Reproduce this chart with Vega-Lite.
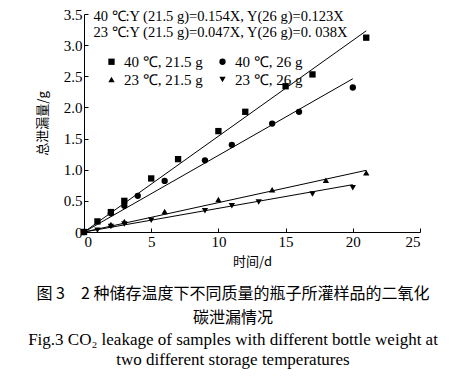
{
  "$schema": "https://vega.github.io/schema/vega-lite/v6.json",
  "width": 336,
  "height": 218,
  "autosize": {"type": "none"},
  "padding": {"left": 84, "top": 14, "right": 46, "bottom": 146},
  "background": "white",
  "config": {
    "view": {"stroke": null},
    "axis": {
      "grid": false,
      "domainColor": "black",
      "tickColor": "black",
      "labelColor": "black",
      "titleColor": "black",
      "labelFont": "Liberation Serif",
      "labelFontSize": 15,
      "titleFont": "Noto Sans CJK SC",
      "titleFontSize": 13,
      "titleFontWeight": "normal",
      "tickSize": -4,
      "labelPadding": 6,
      "labelOverlap": false
    }
  },
  "title": {
    "text": ["图 3　2 种储存温度下不同质量的瓶子所灌样品的二氧化", "碳泄漏情况"],
    "subtitle": ["Fig.3 CO₂ leakage of samples with different bottle weight at", "two different storage temperatures"],
    "orient": "bottom",
    "anchor": "middle",
    "frame": "group",
    "dx": -19,
    "offset": 18,
    "font": "Noto Sans CJK SC",
    "fontSize": 16,
    "fontWeight": "normal",
    "lineHeight": 24,
    "color": "black",
    "subtitleFont": "Liberation Serif",
    "subtitleFontSize": 17,
    "subtitleLineHeight": 20,
    "subtitleColor": "black",
    "subtitlePadding": 6
  },
  "datasets": {
    "points": [
      {"series": "40 ℃, 21.5 g", "day": 0, "leak": 0},
      {"series": "40 ℃, 21.5 g", "day": 1, "leak": 0.17},
      {"series": "40 ℃, 21.5 g", "day": 2, "leak": 0.32},
      {"series": "40 ℃, 21.5 g", "day": 3, "leak": 0.5},
      {"series": "40 ℃, 21.5 g", "day": 5, "leak": 0.86},
      {"series": "40 ℃, 21.5 g", "day": 7, "leak": 1.17},
      {"series": "40 ℃, 21.5 g", "day": 10, "leak": 1.62},
      {"series": "40 ℃, 21.5 g", "day": 12, "leak": 1.93},
      {"series": "40 ℃, 21.5 g", "day": 15, "leak": 2.34},
      {"series": "40 ℃, 21.5 g", "day": 17, "leak": 2.53},
      {"series": "40 ℃, 21.5 g", "day": 21, "leak": 3.12},
      {"series": "40 ℃, 26 g", "day": 0, "leak": 0},
      {"series": "40 ℃, 26 g", "day": 2, "leak": 0.3},
      {"series": "40 ℃, 26 g", "day": 3, "leak": 0.42},
      {"series": "40 ℃, 26 g", "day": 4, "leak": 0.58},
      {"series": "40 ℃, 26 g", "day": 6, "leak": 0.82},
      {"series": "40 ℃, 26 g", "day": 9, "leak": 1.15},
      {"series": "40 ℃, 26 g", "day": 11, "leak": 1.4},
      {"series": "40 ℃, 26 g", "day": 14, "leak": 1.74},
      {"series": "40 ℃, 26 g", "day": 16, "leak": 1.93},
      {"series": "40 ℃, 26 g", "day": 20, "leak": 2.32},
      {"series": "23 ℃, 21.5 g", "day": 0, "leak": 0},
      {"series": "23 ℃, 21.5 g", "day": 2, "leak": 0.12},
      {"series": "23 ℃, 21.5 g", "day": 3, "leak": 0.17},
      {"series": "23 ℃, 21.5 g", "day": 6, "leak": 0.33},
      {"series": "23 ℃, 21.5 g", "day": 10, "leak": 0.52},
      {"series": "23 ℃, 21.5 g", "day": 14, "leak": 0.68},
      {"series": "23 ℃, 21.5 g", "day": 18, "leak": 0.83},
      {"series": "23 ℃, 21.5 g", "day": 21, "leak": 0.95},
      {"series": "23 ℃, 26 g", "day": 0, "leak": 0},
      {"series": "23 ℃, 26 g", "day": 1, "leak": 0.03},
      {"series": "23 ℃, 26 g", "day": 2, "leak": 0.09},
      {"series": "23 ℃, 26 g", "day": 3, "leak": 0.13},
      {"series": "23 ℃, 26 g", "day": 5, "leak": 0.19},
      {"series": "23 ℃, 26 g", "day": 9, "leak": 0.34},
      {"series": "23 ℃, 26 g", "day": 11, "leak": 0.42},
      {"series": "23 ℃, 26 g", "day": 13, "leak": 0.48},
      {"series": "23 ℃, 26 g", "day": 17, "leak": 0.61},
      {"series": "23 ℃, 26 g", "day": 20, "leak": 0.71}
    ],
    "fits": [
      {"series": "40 ℃, 21.5 g", "day": 0, "leak": 0, "day2": 21, "leak2": 3.23},
      {"series": "40 ℃, 26 g", "day": 0, "leak": 0, "day2": 20, "leak2": 2.46},
      {"series": "23 ℃, 21.5 g", "day": 0, "leak": 0, "day2": 21, "leak2": 0.99},
      {"series": "23 ℃, 26 g", "day": 0, "leak": 0, "day2": 20, "leak2": 0.76}
    ],
    "notes": [
      {"label": "40 ℃:Y (21.5 g)=0.154X, Y(26 g)=0.123X", "day": 0.7, "leak": 3.45},
      {"label": "23 ℃:Y (21.5 g)=0.047X, Y(26 g)=0. 038X", "day": 0.7, "leak": 3.2}
    ]
  },
  "encoding": {
    "x": {"field": "day", "type": "quantitative", "scale": {"domain": [0, 25]},
      "axis": {"title": "时间/d", "values": [0, 5, 10, 15, 20, 25], "titlePadding": 6, "labelOverlap": false}},
    "y": {"field": "leak", "type": "quantitative", "scale": {"domain": [0, 3.5]},
      "axis": {"title": "总泄漏量/g", "values": [0, 0.5, 1, 1.5, 2, 2.5, 3, 3.5], "tickCount": 8, "labelOverlap": false,
        "labelExpr": "datum.value == 0 ? '0' : format(datum.value, '.1f')", "titlePadding": 14}}
  },
  "layer": [
    {
      "data": {"name": "fits"},
      "mark": {"type": "rule", "color": "black", "strokeWidth": 1},
      "encoding": {
        "x2": {"field": "day2"},
        "y2": {"field": "leak2"}
      }
    },
    {
      "data": {"name": "points"},
      "mark": {"type": "point", "filled": true, "opacity": 1, "size": 40},
      "encoding": {
        "color": {"value": "black"},
        "shape": {
          "field": "series", "type": "nominal",
          "scale": {"domain": ["40 ℃, 21.5 g", "23 ℃, 21.5 g", "40 ℃, 26 g", "23 ℃, 26 g"],
            "range": ["square", "triangle-up", "circle", "triangle-down"]},
          "legend": {
            "title": null, "orient": "none", "legendX": 20, "legendY": 40,
            "columns": 2, "columnPadding": 12, "rowPadding": 2,
            "labelFont": "Liberation Serif", "labelFontSize": 15, "labelColor": "black",
            "symbolFillColor": "black", "symbolStrokeColor": "black", "symbolSize": 40, "labelOffset": 5
          }
        }
      }
    },
    {
      "data": {"name": "notes"},
      "mark": {"type": "text", "align": "left", "baseline": "middle", "font": "Liberation Serif", "fontSize": 14.5, "color": "black"},
      "encoding": {
        "text": {"field": "label"}
      }
    }
  ]
}
